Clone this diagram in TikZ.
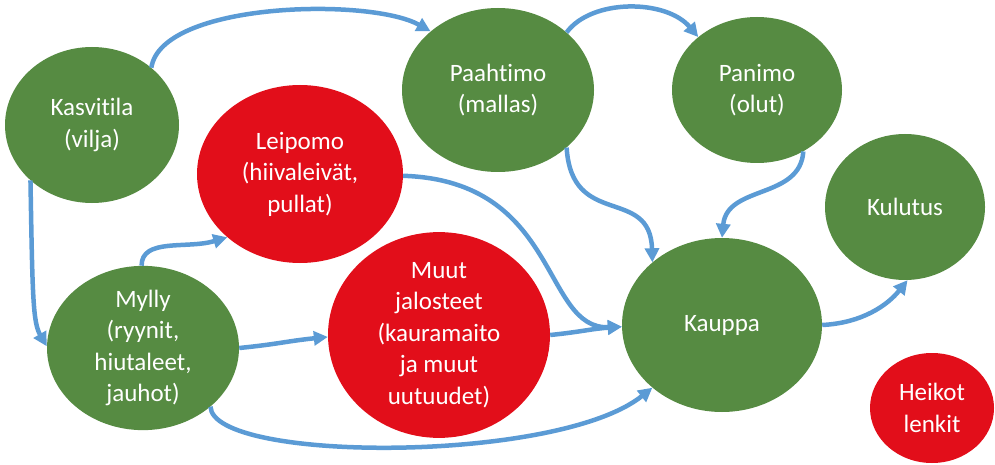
\documentclass[tikz,border=0pt]{standalone}
\usepackage{fontspec}
\setmainfont[Ligatures={NoCommon}]{Carlito}
\usetikzlibrary{shapes.geometric,arrows.meta}
\definecolor{leafgreen}{RGB}{86,139,66}
\definecolor{weakred}{RGB}{226,14,26}
\definecolor{flowblue}{RGB}{91,155,213}
\tikzset{
  stage/.style={ellipse, inner sep=0pt, text=white, align=center,
    font=\fontsize{25}{31.5}\selectfont},
  good/.style={stage, fill=leafgreen},
  weak/.style={stage, fill=weakred},
  flow/.style={draw=flowblue, line width=4.5pt,
    -{Triangle[length=14pt,width=14pt]}},
}
\begin{document}
\begin{tikzpicture}[x=1pt,y=-1pt]
\useasboundingbox (0,0) rectangle (995,465);

% value chain stages
\node[good, minimum width=174pt, minimum height=156pt] (farm) at (92,125) {Kasvitila\\(vilja)};
\node[weak, minimum width=206pt, minimum height=178pt] (bakery) at (300,174) {Leipomo\\(hiivaleivät,\\pullat)};
\node[good, minimum width=192pt, minimum height=164pt] (malt) at (498,90) {Paahtimo\\(mallas)};
\node[good, minimum width=170pt, minimum height=146pt] (brew) at (757,90) {Panimo\\(olut)};
\node[good, minimum width=160pt, minimum height=146pt] (use) at (905,207) {Kulutus};
\node[good, minimum width=192pt, minimum height=164pt] (mill) at (143,348) {Mylly\\(ryynit,\\hiutaleet,\\jauhot)};
\node[weak, minimum width=222pt, minimum height=194pt] (other) at (439,335) {Muut\\jalosteet\\(kauramaito\\ja muut\\uutuudet)};
\node[good, minimum width=200pt, minimum height=174pt] (shop) at (722,325) {Kauppa};
\node[weak, minimum width=124pt, minimum height=110pt] (legend) at (932,408) {Heikot\\lenkit};

% flows between stages
\draw[flow] (farm.44) .. controls +(10,-66) and +(-60,-34) .. (malt.139.5);
\draw[flow] (farm.222.5) .. controls +(2,115) and +(-14,-24) .. (mill.179);
\draw[flow] (mill.91) .. controls +(0,-28) and +(-40,12) .. (bakery.221);
\draw[flow] (mill.0) .. controls +(40,-4) and +(-40,4) .. (other.181);
\draw[flow] (mill.-41.4) .. controls +(2,56) and +(-95,76) .. (shop.222.4);
\draw[flow] (bakery.-1) .. controls +(157,5) and +(-80,3) .. (shop.181);
\draw[flow] (other.0) .. controls +(30,-3) and +(-30,2) .. (shop.181);
\draw[flow] (malt.-40.9) .. controls +(5,82) and +(-2,-77) .. (shop.138);
\draw[flow] (malt.40.9) .. controls +(25,-34) and +(-32,-38) .. (brew.138.5);
\draw[flow] (brew.-53.4) .. controls +(-3,48) and +(5,-53) .. (shop.90);
\draw[flow] (shop.0) .. controls +(40,-2) and +(-20,25) .. (use.-88);
\end{tikzpicture}
\end{document}
